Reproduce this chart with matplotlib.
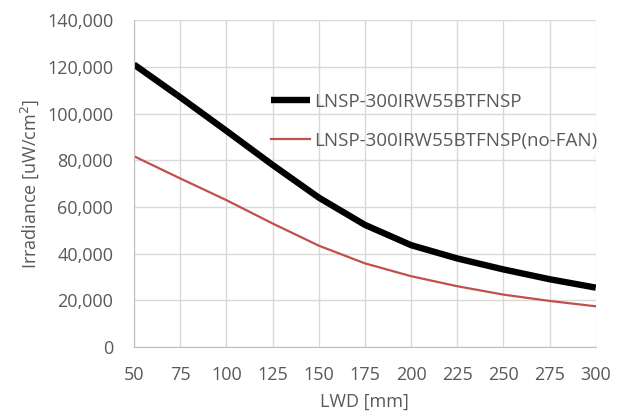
import matplotlib
matplotlib.use("Agg")
import matplotlib.pyplot as plt
from matplotlib.ticker import FuncFormatter

lwd = [50, 75, 100, 125, 150, 175, 200, 225, 250, 275, 300]
fan = [121000, 107000, 92600, 78000, 64000, 52300, 43600, 37900, 33200, 29000, 25400]
nofan = [81700, 72200, 62900, 52900, 43400, 35800, 30300, 26000, 22400, 19700, 17400]
xticks = [50, 75, 100, 125, 150, 175, 200, 225, 250, 275, 300]
yticks = [0, 20000, 40000, 60000, 80000, 100000, 120000, 140000]

plt.rcParams['font.family'] = ['Open Sans', 'DejaVu Sans']
txt = '#595959'
fig = plt.figure(figsize=(6.3, 4.12), dpi=100)
ax = fig.add_axes([0.2127, 0.158, 0.733, 0.793])
ax.plot(lwd, fan, color='black', lw=4.6, label='LNSP-300IRW55BTFNSP',
        solid_capstyle='butt', solid_joinstyle='round')
ax.plot(lwd, nofan, color='#c0504d', lw=1.6, label='LNSP-300IRW55BTFNSP(no-FAN)')
ax.set_xlim(50, 300)
ax.set_ylim(0, 140000)
ax.set_xticks(xticks)
ax.set_yticks(yticks)
ax.yaxis.set_major_formatter(FuncFormatter(lambda v, p: f"{int(v):,}"))
ax.grid(True, color='#d9d9d9', lw=1)
ax.set_axisbelow(True)
for s in ['top', 'right']:
    ax.spines[s].set_visible(False)
for s in ['left', 'bottom']:
    ax.spines[s].set_color('#bfbfbf')
ax.tick_params(length=0, labelsize=13, colors=txt)
ax.tick_params(axis='y', pad=15)
ax.tick_params(axis='x', pad=14)
ax.set_xlabel('LWD [mm]', fontsize=13, color=txt, labelpad=6)
ax.set_ylabel('Irradiance [uW/cm$^2$]', fontsize=13, color=txt, labelpad=4)
leg = ax.legend(loc='upper left', bbox_to_anchor=(0.28, 0.80), frameon=False,
                fontsize=13.5, handlelength=2.1, handletextpad=0.2, labelspacing=1.12,
                borderaxespad=0)
for t in leg.get_texts():
    t.set_color(txt)
fig.savefig('out.png', dpi=100)
